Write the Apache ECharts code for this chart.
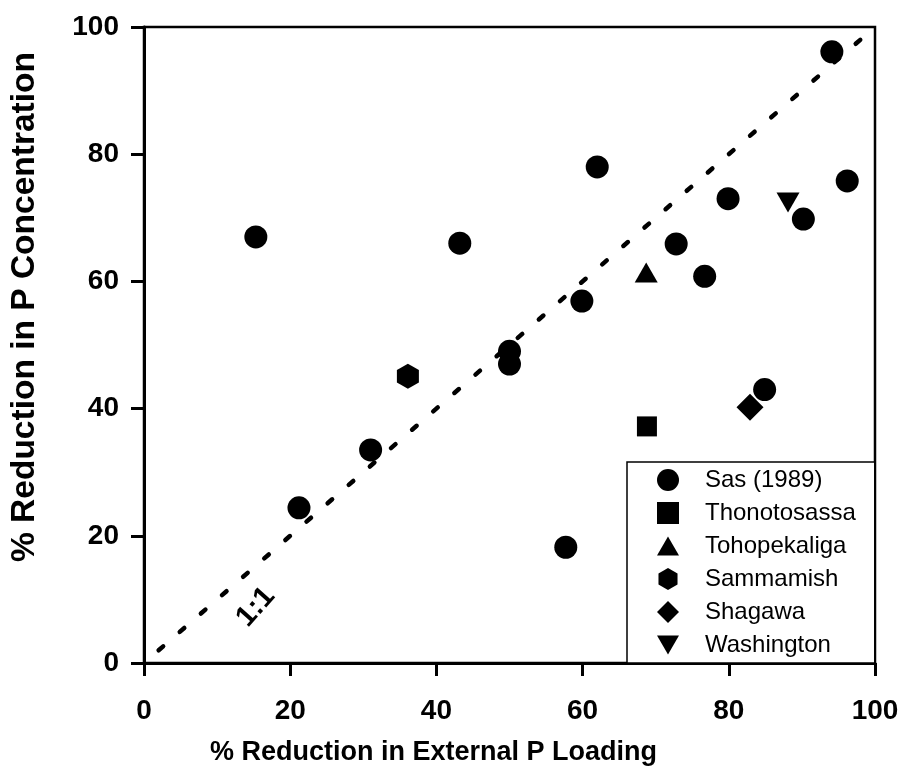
<!DOCTYPE html>
<html>
<head>
<meta charset="utf-8">
<script src="https://cdn.jsdelivr.net/npm/echarts@6/dist/echarts.min.js"></script>
<style>
html,body{margin:0;padding:0;background:#fff;}
#chart{width:903px;height:784px;}
</style>
</head>
<body>
<div id="chart"></div>
<script>
// ---- data ----
const xTicks = [0, 20, 40, 60, 80, 100];
const yTicks = [0, 20, 40, 60, 80, 100];
const sas = [[15.3,67],[21.2,24.4],[31,33.5],[43.2,66],[50,49],[50,47],[57.7,18.2],[59.9,56.9],[62,78],[72.8,65.9],[76.7,60.8],[79.9,73],[84.9,43],[90.2,69.8],[94.1,96.1],[96.2,75.8]];
const thonotosassa = [[68.8,37.2]];
const tohopekaliga = [[68.7,61.4]];
const sammamish = [[36.1,45.1]];
const shagawa = [[82.9,40.2]];
const washington = [[88.1,72.4]];
const oneToOne = [[2,2],[99,99]];
const oneToOneLabel = [[15.3,8.8]];
const seriesNames = ['Sas (1989)','Thonotosassa','Tohopekaliga','Sammamish','Shagawa','Washington'];

const FONT = '"Liberation Sans", Arial, Helvetica, sans-serif';
const HEX = 'path://M0,-1 L0.866,-0.5 L0.866,0.5 L0,1 L-0.866,0.5 L-0.866,-0.5 Z';
const DOWN = 'path://M0,0 L2,0 L1,1.73 Z';
const UP = 'path://M1,0 L2,1.73 L0,1.73 Z';
const DIAM = 'path://M1,0 L2,1 L1,2 L0,1 Z';

const chart = echarts.init(document.getElementById('chart'), null, {renderer:'canvas'});
const axisCommon = {
  min: 0, max: 100, interval: 20,
  axisLine: {show: true, lineStyle: {color: '#000', width: 3}},
  axisTick: {show: true, inside: false, length: 13, lineStyle: {color: '#000', width: 3}},
  splitLine: {show: false},
};
function mk(name, data, symbol, size) {
  return {
    name, type: 'scatter', data, symbol, symbolSize: size,
    itemStyle: {color: '#000', opacity: 1}, z: 5,
    emphasis: {disabled: true}
  };
}
chart.setOption({
  animation: false,
  backgroundColor: '#fff',
  grid: {left: 143, right: 28, top: 27, bottom: 121, show: true, borderColor: '#000', borderWidth: 2.5, backgroundColor: 'transparent'},
  xAxis: Object.assign({}, axisCommon, {
    type: 'value',
    name: '% Reduction in External P Loading',
    nameLocation: 'middle', nameGap: 76,
    nameTextStyle: {fontFamily: FONT, fontWeight: 'bold', fontSize: 27, color: '#000', padding: [0, 152, 0, 0]},
    axisLabel: {margin: 34, fontFamily: FONT, fontWeight: 'bold', fontSize: 28, color: '#000',
      formatter: v => xTicks.includes(v) ? String(v) : ''}
  }),
  yAxis: Object.assign({}, axisCommon, {
    type: 'value',
    name: '% Reduction in P Concentration',
    nameLocation: 'middle', nameGap: 102, nameRotate: 90,
    nameTextStyle: {fontFamily: FONT, fontWeight: 'bold', fontSize: 33.5, color: '#000', padding: [0, 0, 0, 76]},
    axisLabel: {margin: 25, fontFamily: FONT, fontWeight: 'bold', fontSize: 28, color: '#000',
      formatter: v => yTicks.includes(v) ? String(v) : ''}
  }),
  legend: {
    orient: 'vertical', left: 627, top: 462,
    data: [
      {name: seriesNames[0], icon: 'circle'},
      {name: seriesNames[1], icon: 'rect'},
      {name: seriesNames[2], icon: UP},
      {name: seriesNames[3], icon: HEX},
      {name: seriesNames[4], icon: DIAM},
      {name: seriesNames[5], icon: DOWN}
    ],
    itemWidth: 22, itemHeight: 22, itemGap: 9,
    padding: [6, 19, 6, 30],
    backgroundColor: '#fff', borderColor: '#000', borderWidth: 1.5,
    selectedMode: false,
    textStyle: {fontFamily: FONT, fontSize: 24, color: '#000', lineHeight: 24, padding: [0, 0, 0, 21]},
    itemStyle: {color: '#000'}, z: 10
  },
  series: [
    {
      name: '1:1', type: 'line', data: oneToOne, symbol: 'none', silent: true,
      lineStyle: {color: '#000', width: 4.5, type: [6, 22], cap: 'round'}, z: 2
    },
    {
      name: '1:1 label', type: 'scatter', data: oneToOneLabel, symbolSize: 1, silent: true,
      itemStyle: {color: 'rgba(0,0,0,0)', opacity: 1},
      label: {show: true, formatter: '1:1', rotate: 48, position: 'inside', fontFamily: FONT, fontWeight: 'bold', fontSize: 29,
        color: '#000', opacity: 1, textBorderWidth: 0, textBorderColor: 'transparent', textShadowBlur: 0}
    },
    mk(seriesNames[0], sas, 'circle', 23),
    mk(seriesNames[1], thonotosassa, 'rect', 20),
    mk(seriesNames[2], tohopekaliga, UP, [23, 20]),
    mk(seriesNames[3], sammamish, HEX, [22, 25]),
    mk(seriesNames[4], shagawa, DIAM, [27, 27]),
    mk(seriesNames[5], washington, DOWN, [23, 20])
  ]
});
</script>
</body>
</html>
